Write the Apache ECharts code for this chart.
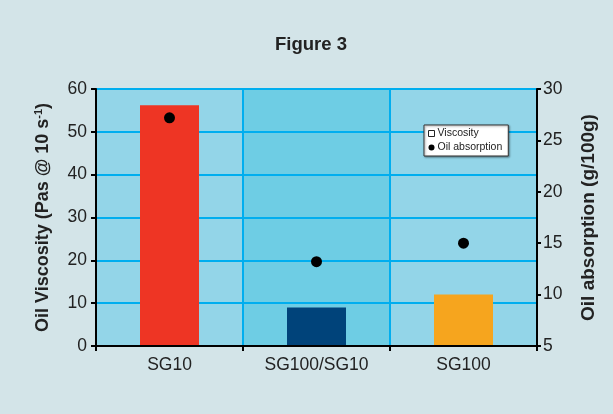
<!DOCTYPE html>
<html>
<head>
<meta charset="utf-8">
<script src="https://cdn.jsdelivr.net/npm/echarts@6/dist/echarts.min.js"></script>
<style>
html,body{margin:0;padding:0;background:#D3E4E8;}
#c{width:613px;height:414px;}
</style>
</head>
<body>
<div id="c"></div>
<script>
var categories = ['SG10', 'SG100/SG10', 'SG100'];
var viscosity = [56.2, 9, 12];
var oilAbsorption = [27.2, 13.2, 15.0];
var barColors = ['#EE3524', '#00437A', '#F6A51E'];

var chart = echarts.init(document.getElementById('c'));
var font = 'Liberation Sans, Arial, Helvetica, sans-serif';
chart.setOption({
  backgroundColor: '#D3E4E8',
  animation: false,
  textStyle: { fontFamily: font },
  title: {
    text: 'Figure 3', left: 270, top: 30,
    textStyle: { fontSize: 18.5, fontWeight: 'bold', color: '#222', fontFamily: font }
  },
  legend: {
    orient: 'vertical', left: 424, top: 125,
    backgroundColor: '#fff', borderColor: '#333', borderWidth: 1,
    padding: [3, 6, 3, 4], itemGap: 3, itemWidth: 6, itemHeight: 6,
    shadowColor: 'rgba(0,0,0,0.4)', shadowBlur: 2, shadowOffsetX: 1, shadowOffsetY: 1,
    textStyle: { fontSize: 10.5, color: '#222', fontFamily: font, padding: [0, 0, 0, -2] },
    data: [
      { name: 'Viscosity', icon: 'rect', itemStyle: { color: '#fff', borderColor: '#222', borderWidth: 1 } },
      { name: 'Oil absorption', icon: 'circle', itemStyle: { color: '#000' } }
    ]
  },
  grid: { left: 96, right: 76, top: 89, bottom: 68 },
  xAxis: [
    {
      type: 'category', data: categories, z: 0,
      axisLine: { show: false },
      axisTick: { show: false },
      axisLabel: { show: false },
      splitLine: { show: true, lineStyle: { color: '#00AEEF', width: 2 } },
      splitArea: { show: true, areaStyle: { color: ['#93D5E8', '#6ECDE4'] } }
    },
    {
      type: 'category', data: categories, z: 4, position: 'bottom',
      axisLine: { show: true, onZero: false, lineStyle: { color: '#000', width: 2 } },
      axisTick: { show: true, length: 5, lineStyle: { color: '#000', width: 2 } },
      axisLabel: { fontSize: 17.5, color: '#222', margin: 10, fontFamily: font },
      splitLine: { show: false },
      splitArea: { show: false }
    }
  ],
  yAxis: [
    {
      type: 'value', min: 0, max: 60, interval: 10, z: 1,
      name: '{a|Oil Viscosity (Pas @ 10 s}{s|-1}{a|)}',
      nameLocation: 'middle', nameGap: 43, nameRotate: 90,
      nameTextStyle: {
        rich: {
          a: { fontSize: 18, fontWeight: 'bold', color: '#222', fontFamily: font },
          s: { fontSize: 11, fontWeight: 'bold', color: '#222', fontFamily: font, verticalAlign: 'top', padding: [0, 0, 9, 0] }
        }
      },
      axisLine: { show: true, lineStyle: { color: '#000', width: 2 } },
      axisTick: { show: true, length: 5, lineStyle: { color: '#000', width: 2 } },
      axisLabel: { fontSize: 17.5, color: '#222', margin: 9, fontFamily: font },
      splitLine: { show: true, lineStyle: { color: '#00AEEF', width: 2 } }
    },
    {
      type: 'value', min: 5, max: 30, interval: 5, position: 'right', z: 4,
      name: 'Oil absorption (g/100g)',
      nameLocation: 'middle', nameGap: 42, nameRotate: 90,
      nameTextStyle: { fontSize: 19, fontWeight: 'bold', color: '#222', fontFamily: font },
      axisLine: { show: true, lineStyle: { color: '#000', width: 2 } },
      axisTick: { show: true, length: 4, lineStyle: { color: '#000', width: 2 } },
      axisLabel: { fontSize: 17.5, color: '#222', margin: 6, fontFamily: font },
      splitLine: { show: false }
    }
  ],
  series: [
    {
      name: 'Viscosity', type: 'bar', xAxisIndex: 1, yAxisIndex: 0, barWidth: 59, z: 2,
      data: viscosity.map(function (v, i) { return { value: v, itemStyle: { color: barColors[i] } }; })
    },
    {
      name: 'Oil absorption', type: 'scatter', xAxisIndex: 1, yAxisIndex: 1, symbolSize: 11,
      itemStyle: { color: '#000', opacity: 1 }, z: 5,
      data: oilAbsorption
    }
  ]
});
</script>
</body>
</html>
